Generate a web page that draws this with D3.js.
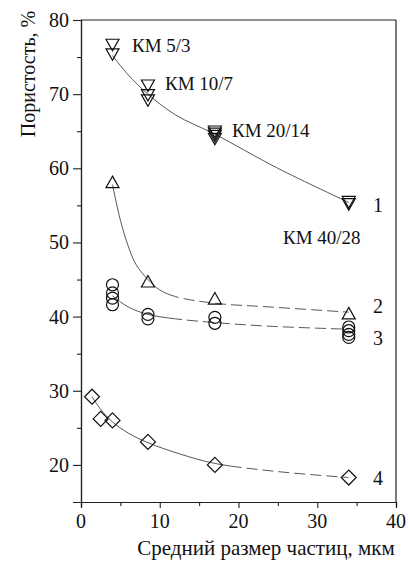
<!DOCTYPE html>
<html>
<head>
<meta charset="utf-8">
<script src="https://cdn.jsdelivr.net/npm/d3@7"></script>
<style>
  html, body { margin: 0; padding: 0; background: #fff; overflow: hidden; }
  svg { display: block; }
  svg text { font-family: "Liberation Serif", "Times New Roman", "DejaVu Serif", serif; fill: #111; }
</style>
</head>
<body>
<div id="chart"></div>
<script>
// markers (x = средний размер, y = пористость)
const s1x = [4, 4, 8.5, 8.5, 8.5, 17, 17, 17, 17, 34, 34];
const s1y = [76.8, 75.5, 71.3, 70.0, 69.3, 65.1, 64.8, 64.5, 64.1, 55.6, 55.3];
const s2x = [4, 8.5, 17, 34];
const s2y = [58.0, 44.6, 42.3, 40.3];
const s3x = [4, 4, 4, 4, 8.5, 8.5, 17, 17, 34, 34, 34, 34];
const s3y = [44.3, 43.2, 42.5, 41.6, 40.3, 39.7, 39.9, 39.1, 38.6, 38.1, 37.6, 37.2];
const s4x = [1.4, 2.5, 4, 8.5, 17, 34];
const s4y = [29.2, 26.2, 26.0, 23.1, 20.0, 18.3];

// fitted curves, points
const c1x = [4, 6, 8.5, 12, 17, 25, 34];
const c1y = [75.2, 72.6, 70.0, 67.2, 64.6, 60.0, 55.4];
const c2x = [4, 5, 6, 7, 8.5, 10, 12, 17, 24, 34];
const c2y = [57.8, 53.0, 49.5, 47.0, 45.0, 43.6, 42.7, 41.8, 41.3, 40.6];
const c3x = [4, 6, 8.5, 12, 17, 24, 34];
const c3y = [42.8, 41.3, 40.3, 39.7, 39.2, 38.7, 38.3];
const c4x = [1.4, 2.5, 4, 6, 8.5, 12.5, 17, 25, 34];
const c4y = [29.2, 27.5, 25.8, 24.3, 23.0, 21.5, 20.2, 19.1, 18.3];

const xTicks = [0, 10, 20, 30, 40];
const xMinor = [5, 15, 25, 35];
const yTicks = [20, 30, 40, 50, 60, 70, 80];
const yMinor = [25, 35, 45, 55, 65, 75];

const kmLabels = ["КМ 5/3", "КМ 10/7", "КМ 20/14", "КМ 40/28"];
const kmX = [6.48, 10.67, 19.17, 25.65];
const kmY = [75.69, 70.57, 64.23, 49.81];
const curveNames = ["1", "2", "3", "4"];
const curveNameX = [37.7, 37.7, 37.7, 37.7];
const curveNameY = [54.1, 40.5, 36.2, 17.3];

const width = 408, height = 562;
const margin = { left: 81, right: 12, top: 20, bottom: 60 };
const serif = "'Liberation Serif', 'Times New Roman', 'DejaVu Serif', serif";

const svg = d3.select("#chart").append("svg")
  .attr("width", width)
  .attr("height", height)
  .attr("font-family", serif);

// scales work in absolute page pixels
const x = d3.scaleLinear().domain([0, 40]).range([margin.left, width - margin.right]);
const y = d3.scaleLinear().domain([15, 80]).range([height - margin.bottom, margin.top]);
const x0 = x.range()[0], x1 = x.range()[1];
const yTop = y.range()[1], yBot = y.range()[0];

// axes (tick marks only, labels drawn below)
svg.append("g").attr("transform", "translate(0," + yBot + ")")
  .call(d3.axisBottom(x).tickValues(xTicks).tickSize(6).tickFormat(""));
svg.append("g").attr("transform", "translate(0," + yBot + ")")
  .call(d3.axisBottom(x).tickValues(xMinor).tickSize(4).tickFormat(""));
svg.append("g").attr("transform", "translate(" + x0 + ",0)")
  .call(d3.axisLeft(y).tickValues(yTicks).tickSize(8).tickFormat(""));
svg.append("g").attr("transform", "translate(" + x0 + ",0)")
  .call(d3.axisLeft(y).tickValues(yMinor).tickSize(4).tickFormat(""));

svg.selectAll(".domain").attr("stroke", "#222").attr("stroke-width", 1.2);
svg.selectAll(".tick line").attr("stroke", "#222").attr("stroke-width", 1.1);

// frame top and right
svg.append("line").attr("x1", x0).attr("x2", x1).attr("y1", yTop).attr("y2", yTop)
  .attr("stroke", "#222").attr("stroke-width", 1.2);
svg.append("line").attr("x1", x1).attr("x2", x1).attr("y1", yTop).attr("y2", yBot)
  .attr("stroke", "#222").attr("stroke-width", 1.2);

// tick labels
svg.selectAll(".xlab")
  .data(xTicks)
  .enter().append("text")
  .attr("class", "xlab")
  .attr("x", d => x(d))
  .attr("y", yBot + 26)
  .attr("text-anchor", "middle")
  .style("font-size", "20px")
  .text(d => d);

svg.selectAll(".ylab")
  .data(yTicks)
  .enter().append("text")
  .attr("class", "ylab")
  .attr("x", x0 - 12)
  .attr("y", d => y(d) + 7)
  .attr("text-anchor", "end")
  .style("font-size", "20px")
  .text(d => d);

// axis titles
svg.append("text")
  .attr("x", 266)
  .attr("y", 555)
  .attr("text-anchor", "middle")
  .style("font-size", "21px")
  .text("Средний размер частиц, мкм");
svg.append("text")
  .attr("x", 35)
  .attr("y", 74)
  .attr("transform", "rotate(-90,35,74)")
  .attr("text-anchor", "middle")
  .style("font-size", "20px")
  .text("Пористость, %");

// clip areas: solid left part, dashed right part
function addClip(id, a, b) {
  svg.append("clipPath").attr("id", id)
    .append("rect")
    .attr("x", x(a)).attr("y", yTop - 10)
    .attr("width", x(b) - x(a)).attr("height", yBot - yTop + 20);
}
addClip("solid12", 0, 12);
addClip("dash12", 12, 40);
addClip("solid20", 0, 20);
addClip("dash20", 20, 40);

const line = d3.line().x(d => x(d[0])).y(d => y(d[1])).curve(d3.curveCatmullRom);

function drawCurve(xs, ys, split) {
  const pts = xs.map((v, i) => [v, ys[i]]);
  if (!split) {
    svg.append("path").attr("d", line(pts))
      .attr("fill", "none").attr("stroke", "#444").attr("stroke-width", 0.9);
    return;
  }
  svg.append("path").attr("d", line(pts)).attr("clip-path", "url(#solid" + split + ")")
    .attr("fill", "none").attr("stroke", "#444").attr("stroke-width", 0.9);
  svg.append("path").attr("d", line(pts)).attr("clip-path", "url(#dash" + split + ")")
    .attr("fill", "none").attr("stroke", "#444").attr("stroke-width", 0.9)
    .attr("stroke-dasharray", "11,5");
}
drawCurve(c1x, c1y, null);
drawCurve(c2x, c2y, 12);
drawCurve(c3x, c3y, 12);
drawCurve(c4x, c4y, 20);

// markers
const triDown = "M-6.5,-4.5L6.5,-4.5L0,7Z";
const triUp = "M0,-7L6.5,4.5L-6.5,4.5Z";
const diamond = "M0,-7.5L7.5,0L0,7.5L-7.5,0Z";

function drawMarkers(xs, ys, shape) {
  svg.selectAll(null)
    .data(xs.map((v, i) => [v, ys[i]]))
    .enter().append(shape ? "path" : "circle")
    .each(function(d) {
      const el = d3.select(this);
      if (shape) {
        el.attr("d", shape).attr("transform", "translate(" + x(d[0]) + "," + y(d[1]) + ")");
      } else {
        el.attr("cx", x(d[0])).attr("cy", y(d[1])).attr("r", 6);
      }
    })
    .attr("fill", "none")
    .attr("stroke", "#111")
    .attr("stroke-width", 1.2);
}
drawMarkers(s1x, s1y, triDown);
drawMarkers(s2x, s2y, triUp);
drawMarkers(s3x, s3y, null);
drawMarkers(s4x, s4y, diamond);

// annotations
svg.selectAll(".km")
  .data(kmLabels)
  .enter().append("text")
  .attr("class", "km")
  .attr("x", (d, i) => x(kmX[i]))
  .attr("y", (d, i) => y(kmY[i]))
  .style("font-size", "19px")
  .text(d => d);

svg.selectAll(".cname")
  .data(curveNames)
  .enter().append("text")
  .attr("class", "cname")
  .attr("x", (d, i) => x(curveNameX[i]))
  .attr("y", (d, i) => y(curveNameY[i]))
  .attr("text-anchor", "middle")
  .style("font-size", "20px")
  .text(d => d);
</script>
</body>
</html>
